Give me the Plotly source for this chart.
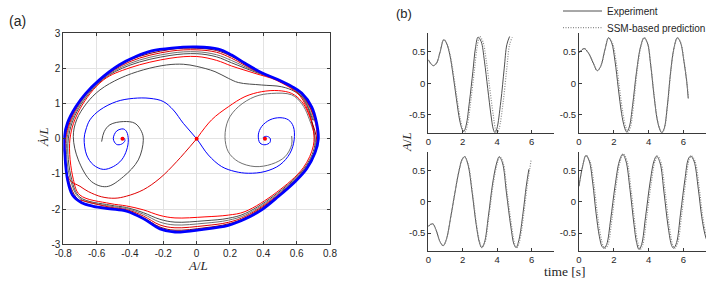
import plotly.graph_objects as go

W, H = 706, 281

# ---------------- panel (a): phase portrait (digitised) ----------------
# outer limit cycle (blue)
LC_X = [0.0, 0.13, 0.21, 0.29, 0.39, 0.49, 0.57, 0.63, 0.69, 0.72, 0.73, 0.71, 0.66, 0.59, 0.49, 0.39,
        0.29, 0.19, 0.03, -0.13, -0.22, -0.32, -0.42, -0.52, -0.62, -0.69, -0.745, -0.775, -0.79, -0.795,
        -0.775, -0.725, -0.665, -0.585, -0.465, -0.365, -0.27, -0.15, 0.0]
LC_Y = [2.61, 2.55, 2.38, 2.15, 1.88, 1.68, 1.49, 1.30, 0.91, 0.44, 0.0, -0.4, -0.85, -1.22, -1.64, -2.02,
        -2.28, -2.46, -2.58, -2.65, -2.56, -2.27, -2.06, -1.99, -1.92, -1.82, -1.6, -1.15, -0.5, 0.0,
        0.45, 0.91, 1.29, 1.67, 2.1, 2.34, 2.5, 2.58, 2.61]

# loops of the trajectories approaching the limit cycle (innermost R1 ... outermost BD)
R1_X = [0.0, 0.12, 0.21, 0.35, 0.48, 0.62, 0.69, 0.70, 0.64, 0.48, 0.29, 0.19, 0.05, -0.13, -0.22, -0.32,
        -0.42, -0.52, -0.70, -0.74, -0.76, -0.70, -0.56, -0.40, -0.16]
R1_Y = [2.34, 2.23, 2.07, 1.86, 1.66, 1.22, 0.50, -0.20, -0.82, -1.52, -2.07, -2.17, -2.22, -2.25, -2.18,
        -2.02, -1.91, -1.84, -1.60, -1.15, 0.0, 0.85, 1.67, 2.02, 2.29]
BA_X = [0.0, 0.12, 0.21, 0.35, 0.486, 0.623, 0.698, 0.708, 0.646, 0.486, 0.293, 0.19, 0.05, -0.13, -0.22,
        -0.32, -0.42, -0.52, -0.70, -0.75, -0.77, -0.707, -0.567, -0.40, -0.16]
BA_Y = [2.42, 2.33, 2.16, 1.90, 1.66, 1.24, 0.52, -0.20, -0.83, -1.54, -2.12, -2.26, -2.33, -2.37, -2.29,
        -2.10, -1.955, -1.885, -1.66, -1.15, 0.0, 0.87, 1.67, 2.095, 2.37]
BB_X = [0.0, 0.12, 0.21, 0.35, 0.49, 0.625, 0.703, 0.713, 0.65, 0.49, 0.295, 0.19, 0.05, -0.13, -0.22,
        -0.32, -0.42, -0.52, -0.70, -0.758, -0.778, -0.713, -0.5725, -0.40, -0.16]
BB_Y = [2.475, 2.39, 2.225, 1.92, 1.66, 1.26, 0.525, -0.20, -0.835, -1.56, -2.16, -2.315, -2.40, -2.45,
        -2.37, -2.145, -1.985, -1.915, -1.70, -1.15, 0.0, 0.88, 1.67, 2.145, 2.43]
BC_X = [0.0, 0.12, 0.21, 0.35, 0.494, 0.627, 0.708, 0.718, 0.654, 0.494, 0.297, 0.19, 0.05, -0.13, -0.22,
        -0.32, -0.42, -0.52, -0.70, -0.765, -0.785, -0.718, -0.5775, -0.40, -0.16]
BC_Y = [2.53, 2.46, 2.29, 1.94, 1.66, 1.276, 0.535, -0.20, -0.84, -1.576, -2.196, -2.375, -2.47, -2.53,
        -2.45, -2.195, -2.015, -1.945, -1.74, -1.15, 0.0, 0.89, 1.67, 2.195, 2.49]
BD_X = [0.0, 0.12, 0.21, 0.35, 0.497, 0.629, 0.712, 0.722, 0.657, 0.497, 0.299, 0.19, 0.05, -0.13, -0.22,
        -0.32, -0.42, -0.52, -0.70, -0.77, -0.79, -0.722, -0.582, -0.40, -0.16]
BD_Y = [2.575, 2.51, 2.34, 1.96, 1.66, 1.29, 0.545, -0.20, -0.846, -1.59, -2.227, -2.42, -2.53, -2.60,
        -2.51, -2.24, -2.04, -1.97, -1.775, -1.15, 0.0, 0.90, 1.67, 2.24, 2.54]

# red branch leaving the saddle up-right / down-left
ARC_A_X = [0.0, 0.09, 0.19, 0.29, 0.39, 0.49, 0.57, 0.63, 0.67, 0.70]
ARC_A_Y = [0.0, 0.54, 0.91, 1.20, 1.34, 1.37, 1.29, 1.06, 0.73, 0.25]
ARC_B_X = [0.0, -0.12, -0.22, -0.32, -0.42, -0.49, -0.57, -0.65, -0.70]
ARC_B_Y = [0.0, -0.65, -1.12, -1.45, -1.63, -1.69, -1.65, -1.50, -1.35]

# gray trajectories starting near the foci
GL_X = [-0.57, -0.555, -0.52, -0.44, -0.37, -0.33, -0.32, -0.35, -0.44, -0.54, -0.63, -0.71, -0.74, -0.72,
        -0.66, -0.58, -0.46, -0.32, -0.18, -0.08, 0.0, 0.11, 0.19, 0.25, 0.39, 0.51, 0.59, 0.65, 0.69]
GL_Y = [-0.08, 0.2, 0.4, 0.49, 0.44, 0.2, -0.04, -0.6, -1.08, -1.36, -1.22, -0.6, 0.06, 0.54,
        1.01, 1.39, 1.72, 1.96, 2.1, 2.12, 2.06, 1.91, 1.72, 1.6, 1.53, 1.48, 1.34, 1.1, 0.5]
GR_X = [0.57, 0.57, 0.53, 0.45, 0.35, 0.25, 0.19, 0.17, 0.19, 0.25, 0.35, 0.45, 0.57, 0.63, 0.67]
GR_Y = [0.08, -0.17, -0.51, -0.72, -0.79, -0.65, -0.37, 0.06, 0.54, 0.91, 1.2, 1.29, 1.25, 1.0, 0.63]

# blue curve through the saddle, spiralling into both foci
BL_X = [-0.445, -0.45, -0.44, -0.43, -0.45, -0.48, -0.50, -0.48, -0.44, -0.42, -0.41, -0.42, -0.45, -0.50,
        -0.56, -0.62, -0.66, -0.675, -0.665, -0.64, -0.58, -0.48, -0.38, -0.28, -0.20, -0.14, -0.08, 0.0,
        0.07, 0.15, 0.23, 0.31, 0.41, 0.50, 0.56, 0.585, 0.58, 0.55, 0.50, 0.44, 0.39, 0.37, 0.38, 0.41,
        0.44, 0.44, 0.42, 0.40, 0.405, 0.41]
BL_Y = [0.0, 0.02, 0.04, -0.05, -0.15, -0.16, 0.0, 0.22, 0.28, 0.2, -0.03, -0.32, -0.6, -0.79,
        -0.87, -0.74, -0.46, 0.0, 0.25, 0.54, 0.82, 1.06, 1.15, 1.15, 1.06, 0.82, 0.44, 0.0,
        -0.46, -0.79, -0.93, -0.98, -0.93, -0.74, -0.41, -0.03, 0.35, 0.54, 0.6, 0.54, 0.35, 0.11, -0.12, -0.17,
        -0.1, 0.02, 0.07, 0.04, -0.02, 0.0]

EQ_X = [-0.445, 0.0, 0.41]
EQ_Y = [0.0, 0.0, 0.0]

A_XTICKS = [-0.8, -0.6, -0.4, -0.2, 0, 0.2, 0.4, 0.6, 0.8]
A_XTEXT = ["-0.8", "-0.6", "-0.4", "-0.2", "0", "0.2", "0.4", "0.6", "0.8"]
A_YTICKS = [-3, -2, -1, 0, 1, 2, 3]
A_YTEXT = ["-3", "-2", "-1", "0", "1", "2", "3"]

TL_EXP_T = [0, 0.15, 0.29, 0.48, 0.67, 0.9, 1.05, 1.25, 1.44, 1.63, 1.82, 1.97, 2.06, 2.2, 2.39, 2.59, 2.74,
            2.89, 3.07, 3.26, 3.45, 3.64, 3.77, 3.87, 3.98, 4.21, 4.41, 4.56, 4.72]
TL_EXP_Y = [0.37, 0.31, 0.28, 0.32, 0.48, 0.69, 0.64, 0.45, 0.13, -0.24, -0.58, -0.73, -0.76, -0.66, -0.29,
            0.19, 0.56, 0.73, 0.66, 0.35, -0.08, -0.5, -0.72, -0.78, -0.72, -0.29, 0.24, 0.61, 0.74]
TL_PRED_T = [0, 0.15, 0.29, 0.48, 0.67, 0.9, 1.06, 1.27, 1.47, 1.67, 1.87, 2.02, 2.12, 2.26, 2.46, 2.67, 2.83,
             2.98, 3.17, 3.37, 3.57, 3.77, 3.90, 4.0, 4.11, 4.35, 4.56, 4.72, 4.88]
TL_PRED_Y = [0.37, 0.31, 0.28, 0.32, 0.48, 0.69, 0.64, 0.45, 0.13, -0.24, -0.58, -0.74, -0.77, -0.67, -0.29,
             0.19, 0.56, 0.74, 0.66, 0.35, -0.08, -0.5, -0.72, -0.78, -0.72, -0.29, 0.24, 0.61, 0.73]

TR_EXP_T = [0, 0.06, 0.29, 0.54, 0.82, 1.05, 1.25, 1.49, 1.7, 1.88, 2.07, 2.26, 2.45, 2.61, 2.74, 2.89, 3.08,
            3.31, 3.54, 3.74, 3.93, 4.12, 4.31, 4.5, 4.66, 4.75, 4.89, 5.08, 5.27, 5.46, 5.65, 5.84, 6.03,
            6.19, 6.28]
TR_EXP_Y = [0.49, 0.50, 0.55, 0.48, 0.32, 0.20, 0.27, 0.53, 0.72, 0.64, 0.35, -0.08, -0.48, -0.69, -0.77,
            -0.69, -0.35, 0.19, 0.58, 0.72, 0.64, 0.29, -0.19, -0.58, -0.74, -0.78, -0.72, -0.35, 0.19, 0.56,
            0.72, 0.64, 0.35, 0.03, -0.24]
TR_PRED_T = [0, 0.06, 0.29, 0.54, 0.82, 1.05, 1.25, 1.49, 1.7, 1.92, 2.13, 2.33, 2.53, 2.69, 2.82, 2.96, 3.13,
             3.34, 3.56, 3.75, 3.94, 4.13, 4.32, 4.51, 4.67, 4.76, 4.9, 5.09, 5.28, 5.47, 5.66, 5.85, 6.04,
             6.2, 6.29]
TR_PRED_Y = TR_EXP_Y

BL_EXP_T = [0, 0.25, 0.44, 0.67, 0.86, 1.05, 1.28, 1.53, 1.78, 1.97, 2.11, 2.3, 2.55, 2.78, 2.97, 3.1, 3.26,
            3.49, 3.74, 3.97, 4.12, 4.31, 4.54, 4.79, 4.98, 5.1, 5.27, 5.5, 5.69, 5.84]
BL_EXP_Y = [-0.39, -0.35, -0.44, -0.63, -0.70, -0.6, -0.28, 0.12, 0.49, 0.68, 0.72, 0.6, 0.14, -0.36, -0.65,
            -0.73, -0.65, -0.23, 0.3, 0.62, 0.72, 0.62, 0.14, -0.39, -0.68, -0.73, -0.6, -0.18, 0.25, 0.52]
BL_PRED_T = [0, 0.25, 0.44, 0.67, 0.86, 1.05, 1.28, 1.53, 1.78, 1.98, 2.12, 2.32, 2.57, 2.8, 2.99, 3.12, 3.29,
             3.52, 3.78, 4.01, 4.16, 4.35, 4.58, 4.84, 5.03, 5.15, 5.32, 5.55, 5.74, 5.89, 5.97]
BL_PRED_Y = [-0.39, -0.35, -0.44, -0.63, -0.70, -0.6, -0.28, 0.12, 0.49, 0.68, 0.72, 0.6, 0.14, -0.36, -0.65,
             -0.73, -0.65, -0.23, 0.3, 0.62, 0.72, 0.62, 0.14, -0.39, -0.68, -0.73, -0.6, -0.18, 0.25, 0.52,
             0.67]

BR_EXP_T = [0, 0.21, 0.4, 0.59, 0.79, 0.98, 1.17, 1.32, 1.44, 1.59, 1.82, 2.07, 2.32, 2.51, 2.7, 2.93, 3.16,
            3.31, 3.45, 3.6, 3.83, 4.08, 4.31, 4.46, 4.66, 4.89, 5.13, 5.33, 5.44, 5.61, 5.84, 6.09, 6.28,
            6.42, 6.61, 6.86, 7.05, 7.24, 7.4]
BR_EXP_Y = [0.25, 0.57, 0.74, 0.65, 0.3, -0.18, -0.55, -0.71, -0.74, -0.68, -0.28, 0.25, 0.65, 0.76, 0.65,
            0.2, -0.36, -0.65, -0.76, -0.68, -0.23, 0.3, 0.65, 0.73, 0.62, 0.14, -0.41, -0.7, -0.74, -0.65,
            -0.18, 0.36, 0.68, 0.73, 0.65, 0.2, -0.23, -0.52, -0.66]
BR_PRED_T = [0, 0.21, 0.41, 0.63, 0.85, 1.05, 1.25, 1.40, 1.52, 1.67, 1.89, 2.13, 2.37, 2.56, 2.76, 2.99, 3.22,
             3.38, 3.52, 3.67, 3.9, 4.15, 4.37, 4.52, 4.72, 4.96, 5.2, 5.4, 5.51, 5.68, 5.91, 6.15, 6.34,
             6.48, 6.67, 6.92, 7.11, 7.3, 7.46]
BR_PRED_Y = BR_EXP_Y

B_XTICKS = [0, 2, 4, 6]
B_XTEXT = ["0", "2", "4", "6"]
B_YTICKS = [-0.5, 0, 0.5]
B_YTEXT = ["-0.5", "0", "0.5"]

# ---------------- styling ----------------
TXT = "#262626"
AX = "#3a3a3a"
SANS = "Liberation Sans, Arial, sans-serif"
SERIF = "Liberation Serif, Times New Roman, serif"
EXP_C = "#505050"
PRED_C = "#8a8a8a"
DOT = "1px,1.5px"


def cyc(xs, ys, k):
    return xs[k:] + xs[:k], ys[k:] + ys[:k]


fig = go.Figure()


def line(x, y, color, width=1.0, xa="x", ya="y", shape="spline", dash="solid", name=None, legend=None):
    fig.add_trace(go.Scatter(x=x, y=y, mode="lines", xaxis=xa, yaxis=ya, name=name,
                             showlegend=legend is not None, legend=legend or "legend",
                             line=dict(color=color, width=width, shape=shape, dash=dash, smoothing=1.0),
                             hoverinfo="skip"))


# gray trajectories
gx, gy = cyc(BA_X, BA_Y, 7)
line(GL_X + gx, GL_Y + gy, "#4a4a4a")
gx, gy = cyc(BB_X, BB_Y, 7)
line(GR_X + gx, GR_Y + gy, "#707070")
# red trajectories
r1x, r1y = cyc(R1_X, R1_Y, 7)
bdx, bdy = cyc(BD_X, BD_Y, 7)
line(ARC_A_X + r1x, ARC_A_Y + r1y, "#ff0000")
line([r1x[-1]] + bdx, [r1y[-1]] + bdy, "#8b0000")
bcx, bcy = cyc(BC_X, BC_Y, 19)
line(ARC_B_X + bcx, ARC_B_Y + bcy, "#e00000")
# limit cycle
line(LC_X, LC_Y, "#0000ff", width=2.8)
# blue separatrix
line(BL_X, BL_Y, "#0000ff", width=1.0)
fig.add_trace(go.Scatter(x=EQ_X, y=EQ_Y, mode="markers", marker=dict(color="#ff0000", size=4),
                         showlegend=False, hoverinfo="skip"))

panels = [("x2", "y2", TL_EXP_T, TL_EXP_Y, TL_PRED_T, TL_PRED_Y),
          ("x3", "y3", TR_EXP_T, TR_EXP_Y, TR_PRED_T, TR_PRED_Y),
          ("x4", "y4", BL_EXP_T, BL_EXP_Y, BL_PRED_T, BL_PRED_Y),
          ("x5", "y5", BR_EXP_T, BR_EXP_Y, BR_PRED_T, BR_PRED_Y)]
for i, (xa, ya, et, ey, pt, py) in enumerate(panels):
    line(et, ey, EXP_C, width=1.0, xa=xa, ya=ya, name="Experiment", legend=("legend" if i == 0 else None))
    line(pt, py, PRED_C, width=1.2, xa=xa, ya=ya, dash=DOT, name="SSM-based prediction",
         legend=("legend2" if i == 0 else None))


def px_x(p):
    return p / W


def px_y(p):
    return 1 - p / H


tickfont = dict(family=SANS, size=10, color=TXT)
tickfont_b = dict(family=SANS, size=9.5, color=TXT)
legfont = dict(family=SANS, size=10, color=TXT)

layout = dict(
    width=W, height=H, margin=dict(l=0, r=0, t=0, b=0, autoexpand=False),
    paper_bgcolor="white", plot_bgcolor="white",
    showlegend=True,
    legend=dict(x=px_x(558), y=px_y(11), xanchor="left", yanchor="middle", font=legfont,
                bgcolor="rgba(0,0,0,0)", itemwidth=39),
    legend2=dict(x=px_x(558), y=px_y(27.7), xanchor="left", yanchor="middle", font=legfont,
                 bgcolor="rgba(0,0,0,0)", itemwidth=39),
    xaxis=dict(domain=[px_x(63.3), px_x(330)], range=[-0.8, 0.8], anchor="y",
               tickvals=A_XTICKS, ticktext=A_XTEXT, ticks="inside", ticklen=3, tickcolor=AX,
               showline=True, linecolor=AX, linewidth=1, mirror="ticks",
               showgrid=True, gridcolor="#e3e3e3", gridwidth=1, zeroline=False, tickfont=tickfont),
    yaxis=dict(domain=[px_y(244.3), px_y(33.3)], range=[-3, 3], anchor="x",
               tickvals=A_YTICKS, ticktext=A_YTEXT, ticks="inside", ticklen=3, tickcolor=AX,
               showline=True, linecolor=AX, linewidth=1, mirror="ticks",
               showgrid=True, gridcolor="#e3e3e3", gridwidth=1, zeroline=False, tickfont=tickfont),
)

bdoms = {"2": ([428.3, 554], [132.7, 32.7]), "3": ([579, 706], [132.7, 32.7]),
         "4": ([428.3, 554], [250.7, 151.7]), "5": ([579, 706], [250.7, 151.7])}
for k, (xd, yd) in bdoms.items():
    layout["xaxis" + k] = dict(domain=[px_x(xd[0]), px_x(xd[1])], range=[0, 7.3], anchor="y" + k,
                               tickvals=B_XTICKS, ticktext=B_XTEXT, ticks="inside", ticklen=3, tickcolor=AX,
                               showline=True, linecolor=AX, linewidth=1, showgrid=False, zeroline=False,
                               tickfont=tickfont_b)
    layout["yaxis" + k] = dict(domain=[px_y(yd[0]), px_y(yd[1])], range=[-0.78, 0.8], anchor="x" + k,
                               tickvals=B_YTICKS, ticktext=B_YTEXT, ticks="inside", ticklen=3, tickcolor=AX,
                               showline=True, linecolor=AX, linewidth=1, showgrid=False, zeroline=False,
                               tickfont=tickfont_b)

fig.update_layout(**layout)

ann = [
    dict(text="(a)", x=px_x(17), y=px_y(21), font=dict(family=SANS, size=14, color=TXT)),
    dict(text="(b)", x=px_x(404), y=px_y(14), font=dict(family=SANS, size=13, color=TXT)),
    dict(text="<i>A</i>/<i>L</i>", x=px_x(198), y=px_y(265), font=dict(family=SERIF, size=13, color=TXT)),
    dict(text="<i>\u0226</i>/<i>L</i>", x=px_x(43), y=px_y(137), textangle=-90,
         font=dict(family=SERIF, size=13, color=TXT)),
    dict(text="time [s]", x=px_x(565), y=px_y(271), font=dict(family=SERIF, size=13.5, color=TXT)),
    dict(text="<i>A</i>/<i>L</i>", x=px_x(406), y=px_y(142), textangle=-90,
         font=dict(family=SERIF, size=13, color=TXT)),
]
for a in ann:
    a.update(xref="paper", yref="paper", showarrow=False, xanchor="center", yanchor="middle")
fig.update_layout(annotations=ann)

fig.write_html("out.html", config={"displayModeBar": False},
               post_script="document.body.style.margin='0';document.body.style.padding='0';"
                           "document.body.style.overflow='hidden';")
